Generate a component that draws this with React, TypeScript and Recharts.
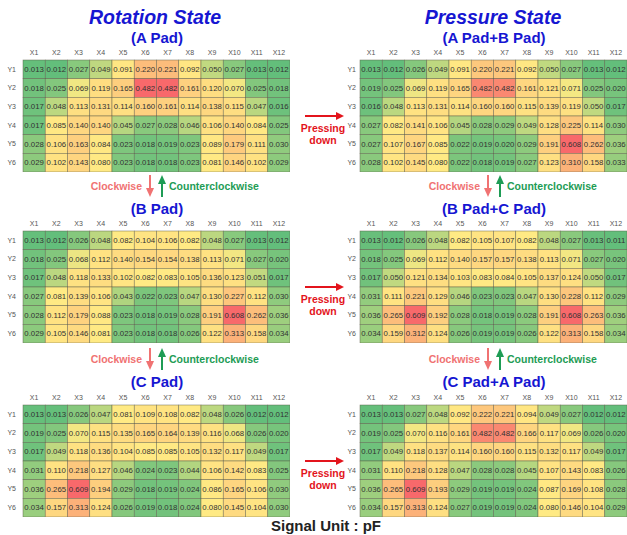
import React from 'react';
import { ScatterChart, Scatter, XAxis, YAxis } from 'recharts';

const xLabels = ['X1', 'X2', 'X3', 'X4', 'X5', 'X6', 'X7', 'X8', 'X9', 'X10', 'X11', 'X12'];
const yLabels = ['Y1', 'Y2', 'Y3', 'Y4', 'Y5', 'Y6'];

// rotation state
const aPad = [
    [0.013, 0.012, 0.027, 0.049, 0.091, 0.220, 0.221, 0.092, 0.050, 0.027, 0.013, 0.012],
    [0.018, 0.025, 0.069, 0.119, 0.165, 0.482, 0.482, 0.161, 0.120, 0.070, 0.025, 0.018],
    [0.017, 0.048, 0.113, 0.131, 0.114, 0.160, 0.161, 0.114, 0.138, 0.115, 0.047, 0.016],
    [0.017, 0.085, 0.140, 0.140, 0.045, 0.027, 0.028, 0.046, 0.106, 0.140, 0.084, 0.025],
    [0.028, 0.106, 0.163, 0.084, 0.023, 0.018, 0.019, 0.023, 0.089, 0.179, 0.111, 0.030],
    [0.029, 0.102, 0.143, 0.080, 0.023, 0.018, 0.018, 0.023, 0.081, 0.146, 0.102, 0.029],
];
const bPad = [
    [0.013, 0.012, 0.026, 0.048, 0.082, 0.104, 0.106, 0.082, 0.048, 0.027, 0.013, 0.012],
    [0.018, 0.025, 0.068, 0.112, 0.140, 0.154, 0.154, 0.138, 0.113, 0.071, 0.027, 0.020],
    [0.017, 0.048, 0.118, 0.133, 0.102, 0.082, 0.083, 0.105, 0.136, 0.123, 0.051, 0.017],
    [0.027, 0.081, 0.139, 0.106, 0.043, 0.022, 0.023, 0.047, 0.130, 0.227, 0.112, 0.030],
    [0.028, 0.112, 0.179, 0.088, 0.023, 0.018, 0.019, 0.028, 0.191, 0.608, 0.262, 0.036],
    [0.029, 0.105, 0.146, 0.081, 0.023, 0.018, 0.018, 0.026, 0.122, 0.313, 0.158, 0.034],
];
const cPad = [
    [0.013, 0.013, 0.026, 0.047, 0.081, 0.109, 0.108, 0.082, 0.048, 0.026, 0.012, 0.012],
    [0.019, 0.025, 0.070, 0.115, 0.135, 0.165, 0.164, 0.139, 0.116, 0.068, 0.026, 0.020],
    [0.017, 0.049, 0.118, 0.136, 0.104, 0.085, 0.085, 0.105, 0.132, 0.117, 0.049, 0.017],
    [0.031, 0.110, 0.218, 0.127, 0.046, 0.024, 0.023, 0.044, 0.106, 0.142, 0.083, 0.025],
    [0.036, 0.265, 0.609, 0.194, 0.029, 0.018, 0.019, 0.024, 0.086, 0.165, 0.106, 0.030],
    [0.034, 0.157, 0.313, 0.124, 0.026, 0.019, 0.018, 0.024, 0.080, 0.145, 0.104, 0.030],
];

// pressure state
const abPad = [
    [0.013, 0.012, 0.026, 0.049, 0.091, 0.220, 0.221, 0.092, 0.050, 0.027, 0.013, 0.012],
    [0.019, 0.025, 0.069, 0.119, 0.165, 0.482, 0.482, 0.161, 0.121, 0.071, 0.025, 0.020],
    [0.016, 0.048, 0.113, 0.131, 0.114, 0.160, 0.160, 0.115, 0.139, 0.119, 0.050, 0.017],
    [0.027, 0.082, 0.141, 0.106, 0.045, 0.028, 0.029, 0.049, 0.128, 0.225, 0.114, 0.030],
    [0.027, 0.107, 0.167, 0.085, 0.022, 0.019, 0.020, 0.029, 0.191, 0.608, 0.262, 0.036],
    [0.028, 0.102, 0.145, 0.080, 0.022, 0.018, 0.019, 0.027, 0.123, 0.310, 0.158, 0.033],
];
const bcPad = [
    [0.013, 0.012, 0.026, 0.048, 0.082, 0.105, 0.107, 0.082, 0.048, 0.027, 0.013, 0.011],
    [0.018, 0.025, 0.069, 0.112, 0.140, 0.157, 0.157, 0.138, 0.113, 0.071, 0.027, 0.020],
    [0.017, 0.050, 0.121, 0.134, 0.103, 0.083, 0.084, 0.105, 0.137, 0.124, 0.050, 0.017],
    [0.031, 0.111, 0.221, 0.129, 0.046, 0.023, 0.023, 0.047, 0.130, 0.228, 0.112, 0.029],
    [0.036, 0.265, 0.609, 0.192, 0.028, 0.018, 0.019, 0.028, 0.191, 0.608, 0.263, 0.036],
    [0.034, 0.159, 0.312, 0.124, 0.026, 0.019, 0.019, 0.026, 0.122, 0.313, 0.158, 0.034],
];
const caPad = [
    [0.013, 0.013, 0.027, 0.048, 0.092, 0.222, 0.221, 0.094, 0.049, 0.027, 0.012, 0.012],
    [0.019, 0.025, 0.070, 0.116, 0.161, 0.482, 0.482, 0.166, 0.117, 0.069, 0.026, 0.020],
    [0.017, 0.049, 0.118, 0.137, 0.114, 0.160, 0.160, 0.115, 0.132, 0.117, 0.049, 0.017],
    [0.031, 0.110, 0.218, 0.128, 0.047, 0.028, 0.028, 0.045, 0.107, 0.143, 0.083, 0.026],
    [0.036, 0.265, 0.609, 0.193, 0.029, 0.019, 0.019, 0.024, 0.087, 0.169, 0.108, 0.028],
    [0.034, 0.157, 0.313, 0.124, 0.027, 0.019, 0.019, 0.024, 0.080, 0.146, 0.104, 0.029],
];

const FONT = '"Liberation Sans", Arial, sans-serif';
const BLUE = '#1616d2';
const CW_RED = '#f07272';
const CCW_GREEN = '#1e9c55';
const PRESS_RED = '#e3141c';

const PLOT_W = 267;
const PLOT_H = 112;
const X_AXIS_H = 14;

// excel style 3 color scale: min green, median yellow, max red
const GREEN = [99, 190, 123];
const YELLOW = [255, 235, 132];
const RED = [248, 105, 107];

const mix = (a: number[], b: number[], t: number) => {
    const c = a.map((v, i) => Math.round(v + (b[i] - v) * Math.max(0, Math.min(1, t))));
    return `rgb(${c[0]},${c[1]},${c[2]})`;
};

const makeColorScale = (grid: number[][]) => {
    const vals = grid.flat().sort((a, b) => a - b);
    const min = vals[0];
    const max = vals[vals.length - 1];
    const pos = (vals.length - 1) * 0.5;
    const lo = Math.floor(pos);
    const mid = vals[lo] + (vals[Math.ceil(pos)] - vals[lo]) * (pos - lo);
    return (v: number) => (v <= mid ? mix(GREEN, YELLOW, (v - min) / (mid - min)) : mix(YELLOW, RED, (v - mid) / (max - mid)));
};

const toCells = (grid: number[][]) =>
    grid.flatMap((row, ri) => row.map((value, ci) => ({ col: ci + 1, row: ri + 1, value })));

interface HeatmapProps {
    grid: number[][];
    left: number; // grid left edge
    top: number; // grid top edge
    yAxisWidth: number;
    yGap: number;
}

const Heatmap: React.FC<HeatmapProps> = ({ grid, left, top, yAxisWidth, yGap }) => {
    const color = makeColorScale(grid);
    const cw = PLOT_W / xLabels.length;
    const ch = PLOT_H / yLabels.length;

    const renderCell = (p: any) => {
        const { cx, cy, payload } = p;
        return (
            <g>
                <rect x={cx - cw / 2} y={cy - ch / 2} width={cw} height={ch} fill={color(payload.value)} stroke="#5c5c4a" strokeWidth={0.6} strokeOpacity={0.75} />
                <text x={cx} y={cy} textAnchor="middle" dominantBaseline="central" fontSize={7.8} fill="#333" fontFamily={FONT}>
                    {payload.value.toFixed(3)}
                </text>
            </g>
        );
    };

    return (
        <div style={{ position: 'absolute', left: left - yAxisWidth, top: top - X_AXIS_H }}>
            <ScatterChart width={yAxisWidth + PLOT_W} height={X_AXIS_H + PLOT_H} margin={{ top: 0, right: 0, bottom: 0, left: 0 }}>
                <XAxis
                    type="number"
                    dataKey="col"
                    orientation="top"
                    height={X_AXIS_H}
                    domain={[0.5, xLabels.length + 0.5]}
                    ticks={xLabels.map((_, i) => i + 1)}
                    tickFormatter={(v: number) => xLabels[v - 1]}
                    interval={0}
                    axisLine={false}
                    tickLine={false}
                    tickSize={3}
                    tick={{ fontSize: 7, fill: '#555', fontFamily: FONT }}
                />
                <YAxis
                    type="number"
                    dataKey="row"
                    width={yAxisWidth}
                    reversed
                    domain={[0.5, yLabels.length + 0.5]}
                    ticks={yLabels.map((_, i) => i + 1)}
                    tickFormatter={(v: number) => yLabels[v - 1]}
                    interval={0}
                    axisLine={false}
                    tickLine={false}
                    tickSize={yGap}
                    tickMargin={1}
                    tick={{ fontSize: 7, fill: '#555', fontFamily: FONT }}
                />
                <Scatter data={toCells(grid)} shape={renderCell} isAnimationActive={false} />
            </ScatterChart>
        </div>
    );
};

const RotationArrows = ({ x, y }: { x: number; y: number }) => (
    <g fontFamily={FONT} fontWeight="bold" fontSize={10.5}>
        <text x={x - 8} y={y + 11} textAnchor="end" dominantBaseline="central" fill={CW_RED}>Clockwise</text>
        <line x1={x} y1={y} x2={x} y2={y + 14} stroke={CW_RED} strokeWidth={2} />
        <polygon points={`${x - 4},${y + 13} ${x + 4},${y + 13} ${x},${y + 22}`} fill={CW_RED} />
        <line x1={x + 12} y1={y + 8} x2={x + 12} y2={y + 22} stroke={CCW_GREEN} strokeWidth={2} />
        <polygon points={`${x + 8},${y + 9} ${x + 16},${y + 9} ${x + 12},${y}`} fill={CCW_GREEN} />
        <text x={x + 19} y={y + 11} dominantBaseline="central" fill={CCW_GREEN}>Counterclockwise</text>
    </g>
);

const PressArrow = ({ y }: { y: number }) => (
    <g fontFamily={FONT} fontWeight="bold" fontSize={10.5} fill={PRESS_RED}>
        <line x1={305} y1={y} x2={337} y2={y} stroke={PRESS_RED} strokeWidth={2} />
        <polygon points={`${336},${y - 4} ${336},${y + 4} ${344},${y}`} />
        <text x={323} y={y + 12} textAnchor="middle" dominantBaseline="central">Pressing</text>
        <text x={323} y={y + 24} textAnchor="middle" dominantBaseline="central">down</text>
    </g>
);

const LEFT_X = 23.2;
const RIGHT_X = 360;
const ROW_TOPS = [59.7, 230.7, 404.7];

export default function App() {
    return (
        <div style={{ position: 'absolute', left: 0, top: 0, width: 627, height: 535, background: '#fff', overflow: 'hidden' }}>
            <Heatmap grid={aPad} left={LEFT_X} top={ROW_TOPS[0]} yAxisWidth={23} yGap={6} />
            <Heatmap grid={bPad} left={LEFT_X} top={ROW_TOPS[1]} yAxisWidth={23} yGap={6} />
            <Heatmap grid={cPad} left={LEFT_X} top={ROW_TOPS[2]} yAxisWidth={23} yGap={6} />
            <Heatmap grid={abPad} left={RIGHT_X} top={ROW_TOPS[0]} yAxisWidth={30} yGap={3} />
            <Heatmap grid={bcPad} left={RIGHT_X} top={ROW_TOPS[1]} yAxisWidth={30} yGap={3} />
            <Heatmap grid={caPad} left={RIGHT_X} top={ROW_TOPS[2]} yAxisWidth={30} yGap={3} />

            <svg width={627} height={535} style={{ position: 'absolute', left: 0, top: 0, pointerEvents: 'none' }}>
                <g fontFamily={FONT} fontWeight="bold" fill={BLUE} textAnchor="middle">
                    <text x={155} y={17} fontSize={19.5} fontStyle="italic" dominantBaseline="central">Rotation State</text>
                    <text x={493} y={17} fontSize={19.5} fontStyle="italic" dominantBaseline="central">Pressure State</text>
                    <text x={157} y={37} fontSize={15} dominantBaseline="central">(A Pad)</text>
                    <text x={494} y={37} fontSize={15} dominantBaseline="central">(A Pad+B Pad)</text>
                    <text x={157} y={208} fontSize={15} dominantBaseline="central">(B Pad)</text>
                    <text x={494} y={208} fontSize={15} dominantBaseline="central">(B Pad+C Pad)</text>
                    <text x={157} y={381} fontSize={15} dominantBaseline="central">(C Pad)</text>
                    <text x={494} y={381} fontSize={15} dominantBaseline="central">(C Pad+A Pad)</text>
                </g>

                <RotationArrows x={150} y={175} />
                <RotationArrows x={488} y={175} />
                <RotationArrows x={150} y={348} />
                <RotationArrows x={488} y={348} />

                <PressArrow y={116} />
                <PressArrow y={287} />
                <PressArrow y={461} />

                <text x={326} y={525} textAnchor="middle" dominantBaseline="central" fontFamily={FONT} fontWeight="bold" fontSize={15} fill="#222">
                    Signal Unit : pF
                </text>
            </svg>
        </div>
    );
}
